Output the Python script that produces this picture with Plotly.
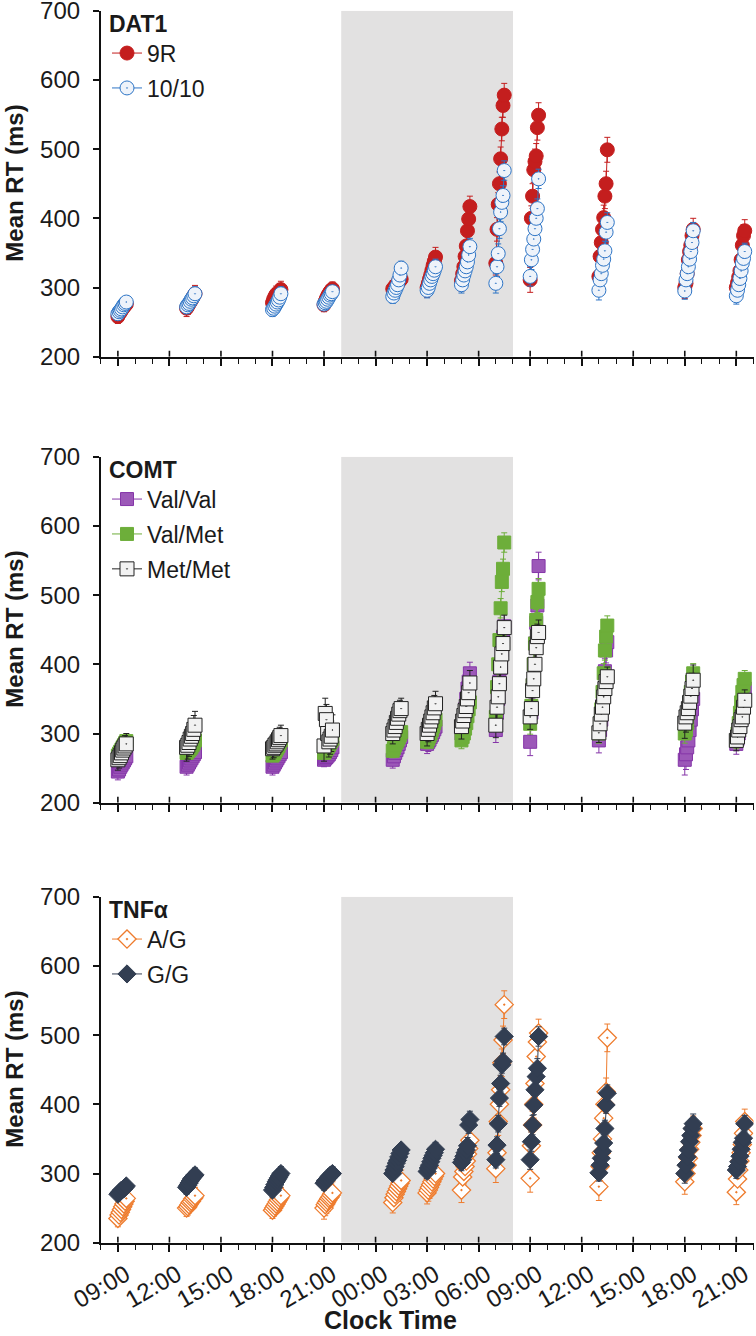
import plotly.graph_objects as go

# ---------------- data ----------------
session_hours = [9, 13, 18, 21, 25, 27, 29, 31, 33, 37, 42, 45]   # session start (h from 00:00 day 1)
block_offsets = [0.0, 0.07, 0.14, 0.21, 0.28, 0.35, 0.42, 0.49]  # within-session test blocks (h)
tick_vals = [9, 12, 15, 18, 21, 24, 27, 30, 33, 36, 39, 42, 45]
tick_text = ["09:00", "12:00", "15:00", "18:00", "21:00", "00:00", "03:00",
             "06:00", "09:00", "12:00", "15:00", "18:00", "21:00"]
night_start, night_end = 22, 32

# DAT1
dat1_9r = [
    [258, 262, 264, 267, 270, 272, 274, 276],
    [270, 273, 276, 279, 282, 285, 288, 291],
    [278, 283, 287, 290, 288, 292, 294, 297],
    [275, 280, 284, 288, 291, 294, 296, 298],
    [298, 300, 302, 304, 306, 308, 310, 312],
    [300, 306, 312, 318, 325, 332, 338, 344],
    [310, 320, 330, 345, 360, 382, 399, 417],
    [335, 384, 420, 450, 486, 529, 563, 578],
    [311, 400, 432, 470, 482, 490, 531, 549],
    [316, 345, 365, 384, 401, 432, 450, 499],
    [300, 306, 320, 340, 352, 361, 375, 384],
    [300, 307, 315, 324, 340, 361, 375, 382],
]
dat1_9r_err = [10, 12, 12, 10, 12, 14, 15, 17, 18, 18, 16, 16]
dat1_1010 = [
    [262, 265, 267, 269, 272, 275, 277, 279],
    [272, 275, 277, 280, 283, 285, 288, 291],
    [268, 270, 273, 276, 279, 282, 286, 291],
    [276, 278, 280, 283, 286, 289, 291, 294],
    [287, 292, 296, 300, 304, 311, 318, 328],
    [296, 300, 306, 311, 316, 320, 325, 330],
    [304, 311, 318, 324, 330, 337, 347, 359],
    [306, 330, 349, 385, 409, 423, 433, 469],
    [316, 340, 355, 370, 385, 400, 414, 457],
    [296, 311, 320, 332, 341, 353, 380, 394],
    [295, 311, 320, 330, 341, 352, 365, 382],
    [288, 296, 304, 313, 324, 335, 342, 352],
]
dat1_1010_err = [8, 10, 10, 9, 10, 11, 12, 14, 14, 14, 12, 12]

# COMT
comt_valval = [
    [245, 248, 252, 255, 258, 261, 264, 267],
    [252, 255, 258, 261, 264, 267, 270, 273],
    [252, 255, 258, 261, 264, 267, 270, 273],
    [262, 264, 266, 268, 270, 273, 276, 280],
    [262, 267, 272, 276, 280, 285, 290, 295],
    [285, 288, 291, 295, 298, 302, 306, 310],
    [300, 310, 320, 335, 350, 365, 375, 387],
    [305, 330, 350, 375, 395, 420, 440, 455],
    [288, 330, 370, 400, 430, 460, 485, 542],
    [290, 305, 320, 340, 360, 390, 420, 432],
    [262, 270, 280, 290, 305, 320, 335, 350],
    [285, 292, 300, 310, 320, 335, 350, 365],
]
comt_valval_err = [12, 12, 12, 10, 12, 14, 16, 18, 20, 18, 22, 15]
comt_valmet = [
    [268, 271, 274, 277, 280, 283, 286, 289],
    [272, 274, 276, 278, 280, 283, 286, 290],
    [268, 270, 273, 276, 279, 282, 286, 290],
    [272, 274, 277, 280, 283, 286, 289, 292],
    [275, 279, 283, 287, 290, 294, 298, 302],
    [288, 292, 296, 300, 305, 310, 315, 320],
    [290, 295, 300, 307, 315, 325, 335, 345],
    [324, 367, 400, 435, 481, 519, 538, 576],
    [314, 340, 370, 400, 430, 464, 490, 509],
    [300, 315, 335, 360, 387, 420, 440, 456],
    [300, 305, 315, 330, 345, 360, 375, 387],
    [290, 300, 315, 330, 345, 360, 370, 379],
]
comt_valmet_err = [8, 8, 8, 8, 10, 10, 12, 14, 15, 14, 14, 12]
comt_metmet = [
    [262, 265, 268, 272, 276, 279, 282, 285],
    [280, 283, 287, 292, 296, 300, 306, 312],
    [278, 280, 283, 285, 288, 291, 294, 297],
    [282, 329, 320, 300, 288, 292, 296, 305],
    [300, 305, 310, 316, 322, 328, 333, 336],
    [300, 306, 312, 318, 324, 330, 337, 343],
    [310, 318, 326, 333, 339, 350, 359, 373],
    [312, 338, 353, 372, 396, 415, 430, 453],
    [324, 336, 362, 379, 400, 424, 440, 446],
    [301, 314, 328, 338, 353, 365, 375, 382],
    [315, 324, 330, 336, 345, 354, 365, 377],
    [290, 295, 305, 310, 320, 324, 338, 348],
]
comt_metmet_err = [15, 20, 15, 22, 15, 18, 18, 18, 18, 14, 22, 15]

# TNF-alpha
tnf_ag = [
    [235, 240, 244, 248, 252, 256, 260, 264],
    [250, 252, 255, 258, 260, 263, 265, 268],
    [247, 250, 253, 256, 259, 262, 265, 268],
    [250, 255, 258, 261, 264, 266, 269, 272],
    [258, 265, 270, 274, 278, 282, 286, 290],
    [272, 276, 280, 284, 288, 292, 296, 300],
    [276, 295, 303, 310, 318, 328, 336, 348],
    [307, 330, 375, 400, 421, 460, 493, 544],
    [293, 340, 370, 400, 430, 469, 490, 503],
    [281, 310, 330, 350, 380, 400, 418, 496],
    [288, 300, 312, 322, 335, 345, 355, 365],
    [273, 292, 305, 318, 330, 342, 358, 375],
]
tnf_ag_err = [12, 12, 12, 16, 15, 16, 18, 20, 20, 20, 18, 18]
tnf_gg = [
    [270, 272, 274, 276, 277, 278, 280, 282],
    [280, 283, 286, 289, 292, 294, 296, 298],
    [276, 280, 284, 288, 291, 294, 297, 300],
    [286, 289, 291, 293, 295, 297, 298, 300],
    [300, 305, 310, 315, 319, 324, 329, 334],
    [303, 308, 312, 317, 322, 326, 330, 335],
    [316, 320, 325, 330, 334, 340, 370, 378],
    [320, 341, 372, 409, 430, 457, 462, 498],
    [320, 346, 370, 399, 421, 440, 452, 498],
    [301, 312, 322, 332, 344, 365, 399, 416],
    [300, 312, 324, 334, 346, 355, 365, 372],
    [305, 310, 317, 325, 335, 345, 351, 372],
]
tnf_gg_err = [7, 10, 10, 10, 8, 10, 12, 12, 14, 12, 14, 12]

# ---------------- figure ----------------
W, H = 756, 1336
FONT = "Liberation Sans, Arial, sans-serif"
TXT = "#1a1a1a"
x_left, x_right = 100.7, 753.5
panels_px = [(10.7, 356.7), (456.7, 802.7), (896.7, 1242.7)]


def flatten(vals, errs):
    xs, ys, es = [], [], []
    for h, vs, er in zip(session_hours, vals, errs):
        for off, v in zip(block_offsets, vs):
            xs.append(h + off)
            ys.append(v)
            es.append(er)
        xs.append(None)
        ys.append(None)
        es.append(0)
    return xs, ys, es


def add_series(fig, name, vals, errs, panel, color, symbol, fill, size, lw=1.0, mlw=1.0):
    xs, ys, es = flatten(vals, errs)
    fig.add_trace(go.Scatter(
        x=xs, y=ys, name=name, mode="lines+markers",
        xaxis="x" if panel == 1 else f"x{panel}",
        yaxis="y" if panel == 1 else f"y{panel}",
        legend="legend" if panel == 1 else f"legend{panel}",
        legendgroup=name,
        line=dict(color=color, width=lw),
        marker=dict(symbol=symbol, size=size, color=fill,
                    line=dict(color=color, width=mlw)),
        error_y=dict(type="data", array=es, visible=True, color=color,
                     thickness=1, width=3),
        connectgaps=False,
    ))


fig = go.Figure()
add_series(fig, "9R", dat1_9r, dat1_9r_err, 1, "#C41E1E", "circle", "#C41E1E", 14)
add_series(fig, "10/10", dat1_1010, dat1_1010_err, 1, "#2E75C6", "circle-dot", "#EEF3FA", 14)
add_series(fig, "Val/Val", comt_valval, comt_valval_err, 2, "#8535A8", "square", "#9C58B8", 13)
add_series(fig, "Val/Met", comt_valmet, comt_valmet_err, 2, "#6DAE3A", "square", "#6DAE3A", 13)
add_series(fig, "Met/Met", comt_metmet, comt_metmet_err, 2, "#222222", "square-dot", "#F2F2F2", 14)
add_series(fig, "A/G", tnf_ag, tnf_ag_err, 3, "#EE7C2E", "diamond-dot", "#FFFFFF", 14, mlw=1.3)
add_series(fig, "G/G", tnf_gg, tnf_gg_err, 3, "#323E52", "diamond", "#323E52", 14)

layout = dict(
    width=W, height=H,
    margin=dict(l=0, r=0, t=0, b=0, autoexpand=False),
    paper_bgcolor="white", plot_bgcolor="rgba(0,0,0,0)",
    font=dict(family=FONT, size=24, color=TXT),
    showlegend=True,
    shapes=[], annotations=[],
)

titles = ["<b>DAT1</b>", "<b>COMT</b>", "<b>TNFα</b>"]
for i, (top, bot) in enumerate(panels_px, start=1):
    sx = "" if i == 1 else str(i)
    layout[f"xaxis{sx}"] = dict(
        domain=[x_left / W, x_right / W], range=[8, 46], anchor=f"y{sx}",
        automargin=False,
        showline=True, linecolor="#111", linewidth=1.6,
        ticks="outside", ticklen=7, tickwidth=1.6, tickcolor="#111",
        tickmode="array", tickvals=tick_vals, ticktext=tick_text,
        showticklabels=(i == 3), tickangle=-30, ticklabelshift=8,
        tickfont=dict(size=24, family=FONT, color=TXT),
        ticklabeloverflow="allow",
        minor=dict(tickmode="linear", tick0=8, dtick=1, ticks="outside",
                   ticklen=5, tickwidth=1.4, tickcolor="#111", showgrid=False),
        showgrid=False, zeroline=False,
    )
    layout[f"yaxis{sx}"] = dict(
        domain=[1 - bot / H, 1 - top / H], range=[200, 700], anchor=f"x{sx}",
        automargin=False,
        tickmode="linear", tick0=200, dtick=100,
        showline=True, linecolor="#111", linewidth=1.6,
        ticks="outside", ticklen=6, tickwidth=1.6, tickcolor="#111",
        ticklabelstandoff=8, ticklabeloverflow="allow",
        tickfont=dict(size=24, family=FONT, color=TXT),
        showgrid=False, zeroline=False,
    )
    # night (lights-off) shading
    layout["shapes"].append(dict(
        type="rect", xref=f"x{sx}", yref=f"y{sx}",
        x0=night_start, x1=night_end, y0=200, y1=700,
        fillcolor="#E2E1E1", line=dict(width=0), layer="below",
    ))
    # major x ticks crossing the axis line (upper half)
    for tv in tick_vals:
        layout["shapes"].append(dict(
            type="line", xref=f"x{sx}", yref=f"y{sx}", ysizemode="pixel",
            yanchor=200, x0=tv, x1=tv, y0=0, y1=6,
            line=dict(color="#111", width=1.6), layer="above",
        ))
    # x axis line continuing left of the y axis (Excel-style crossing)
    layout["shapes"].append(dict(
        type="line", xref=f"x{sx}", yref=f"y{sx}", xsizemode="pixel",
        xanchor=8, x0=-12, x1=0, y0=200, y1=200,
        line=dict(color="#111", width=1.6), layer="above",
    ))
    layout["annotations"].append(dict(
        text="<b>Mean RT (ms)</b>", textangle=-90,
        xref="paper", yref="paper", x=15 / W, y=1 - (top + bot) / 2 / H,
        xanchor="center", yanchor="middle", showarrow=False,
        font=dict(size=24, family=FONT, color=TXT),
    ))
    leg = "legend" if i == 1 else f"legend{i}"
    layout[leg] = dict(
        x=107 / W, y=1 - (top - 9) / H, xanchor="left", yanchor="top",
        bgcolor="rgba(0,0,0,0)", borderwidth=0,
        title=dict(text=titles[i - 1], side="top",
                   font=dict(size=23, family=FONT, color=TXT)),
        font=dict(size=23, family=FONT, color=TXT),
        tracegroupgap=2, itemclick=False, itemdoubleclick=False,
    )

layout["annotations"].append(dict(
    text="<b>Clock Time</b>", xref="paper", yref="paper",
    x=390 / W, y=0, xanchor="center", yanchor="bottom",
    showarrow=False, font=dict(size=25, family=FONT, color=TXT),
))

fig.update_layout(**layout)
fig.write_html(
    "out.html",
    config={"displayModeBar": False},
    post_script="document.body.style.margin='0';document.body.style.overflow='hidden';",
)
